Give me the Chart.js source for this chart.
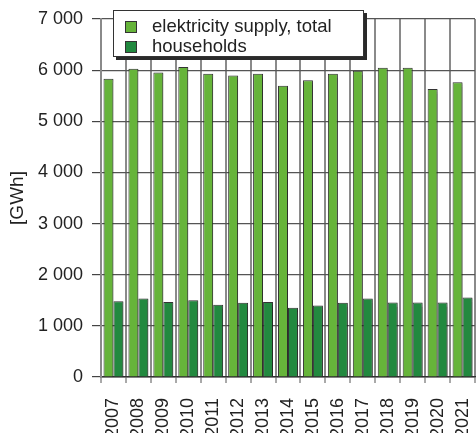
<!DOCTYPE html>
<html>
<head>
<meta charset="utf-8">
<script src="https://cdn.jsdelivr.net/npm/chart.js@4/dist/chart.umd.min.js"></script>
<style>
  html, body { margin: 0; padding: 0; background: #fff; }
  #wrap { position: relative; width: 476px; height: 433px; }
  #legend {
    position: absolute; left: 113px; top: 10px; width: 249px; height: 45px;
    background: #fff; border: 1px solid #333; box-shadow: 3px 3px 0 #2a2a2a;
    font-family: "Liberation Sans", Arial, sans-serif; font-size: 18.5px; color: #222;
  }
  .item { position: absolute; left: 11px; height: 20px; line-height: 20px; white-space: nowrap; }
  .sw { position: absolute; left: 0; top: 4px; width: 10px; height: 10px; border: 1px solid #333; }
  .lbl { position: absolute; left: 27px; top: -1px; }
</style>
</head>
<body>
<div id="wrap">
  <canvas id="c" width="476" height="433"></canvas>
  <div id="legend"></div>
</div>
<script>
const years = ['2007','2008','2009','2010','2011','2012','2013','2014','2015','2016','2017','2018','2019','2020','2021'];
const totalSupply = [5830, 6025, 5955, 6060, 5930, 5895, 5930, 5695, 5800, 5930, 5990, 6045, 6045, 5630, 5765];
const households = [1480, 1535, 1465, 1500, 1415, 1450, 1465, 1355, 1400, 1450, 1535, 1455, 1455, 1455, 1555];
const seriesNames = ['elektricity supply, total', 'households'];
const seriesColors = ['#66b43a', '#22893f'];
const axisTitle = '[GWh]';

const FONT = '"Liberation Sans", Arial, sans-serif';

const shadowPlugin = {
  id: 'barShadow',
  beforeDatasetsDraw(chart) {
    const ctx = chart.ctx;
    ctx.save();
    ctx.shadowColor = 'rgba(0,0,0,0.35)';
    ctx.shadowOffsetX = 2;
    ctx.shadowOffsetY = 1;
    ctx.shadowBlur = 1.5;
  },
  afterDatasetsDraw(chart) {
    chart.ctx.restore();
  }
};

new Chart(document.getElementById('c'), {
  type: 'bar',
  data: {
    labels: years,
    datasets: [
      { label: seriesNames[0], data: totalSupply, backgroundColor: seriesColors[0], borderColor: '#333', borderWidth: 1 },
      { label: seriesNames[1], data: households, backgroundColor: seriesColors[1], borderColor: '#333', borderWidth: 1 }
    ]
  },
  options: {
    responsive: false,
    animation: false,
    devicePixelRatio: 1,
    layout: { padding: { top: 19, right: 1, left: 0, bottom: 0 } },
    datasets: { bar: { categoryPercentage: 0.8, barPercentage: 1.0 } },
    plugins: { legend: { display: false }, tooltip: { enabled: false } },
    scales: {
      x: {
        offset: true,
        grid: { offset: true, color: '#8a8a8a', lineWidth: 2, tickLength: 6, tickColor: '#555', tickWidth: 1 },
        border: { color: '#333', width: 1.5 },
        ticks: { minRotation: 90, maxRotation: 90, autoSkip: false, padding: 15, color: '#222', font: { family: FONT, size: 18 } },
        afterFit(scale) { scale.height = 56; scale.paddingLeft = 0; scale.paddingRight = 0; }
      },
      y: {
        min: 0, max: 7000,
        grid: { color: '#555', lineWidth: 1.2, tickLength: 9, tickColor: '#444' },
        border: { color: '#8a8a8a', width: 2 },
        ticks: {
          stepSize: 1000, padding: 9, color: '#222', font: { family: FONT, size: 18 },
          callback: (v) => String(v).replace(/\B(?=(\d{3})+(?!\d))/g, ' ')
        },
        title: { display: true, text: axisTitle, color: '#222', padding: { top: 6, bottom: 0 }, font: { family: FONT, size: 19 } },
        afterFit(scale) { scale.width = 101; scale.paddingTop = 0; scale.paddingBottom = 0; }
      }
    }
  },
  plugins: [shadowPlugin]
});

const leg = document.getElementById('legend');
seriesNames.forEach((name, i) => {
  const it = document.createElement('div');
  it.className = 'item';
  it.style.top = (6 + i * 20) + 'px';
  const sw = document.createElement('span');
  sw.className = 'sw';
  sw.style.background = seriesColors[i];
  const tx = document.createElement('span');
  tx.className = 'lbl';
  tx.textContent = name;
  it.appendChild(sw); it.appendChild(tx);
  leg.appendChild(it);
});
</script>
</body>
</html>
